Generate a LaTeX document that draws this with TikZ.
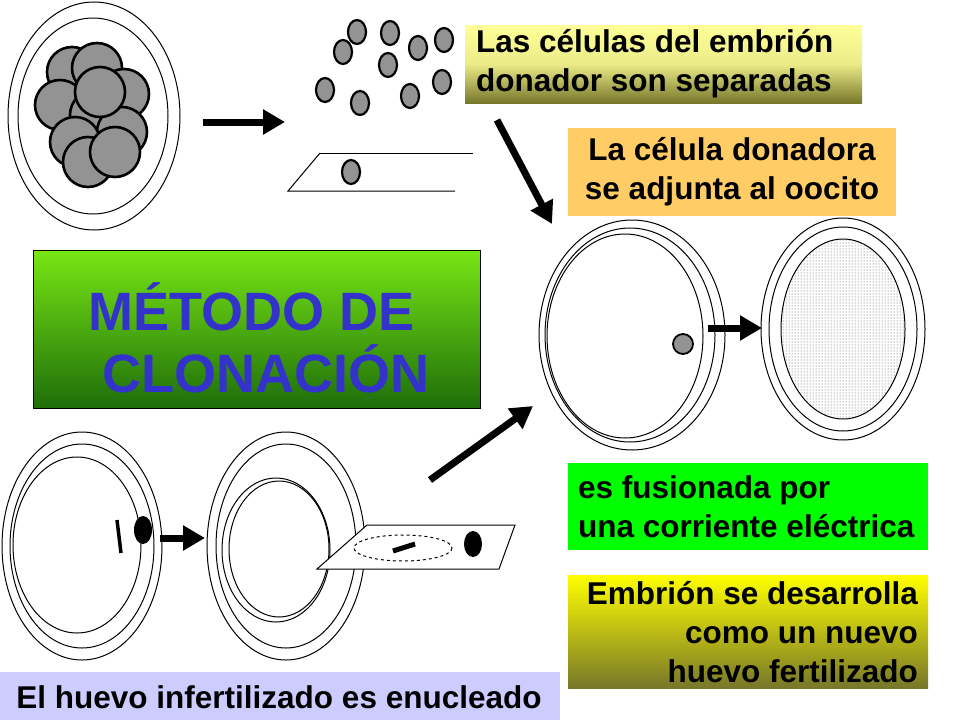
\documentclass[tikz,border=0pt]{standalone}
\usepackage{fontspec}
\setmainfont{Liberation Sans}
\usetikzlibrary{patterns,arrows.meta}
\definecolor{olive1}{HTML}{FFFF99}
\definecolor{olive2}{HTML}{77772A}
\begin{document}
\begin{tikzpicture}[x=1pt,y=-1pt,
  ring/.style={draw=black,line width=1pt},
  cell/.style={draw=black,line width=2.6pt,fill=gray!85},
  bigarrow/.style={line width=7pt,-{Triangle[length=22pt,width=24pt]}},
  lbl/.style={font=\bfseries\fontsize{31.5}{39}\selectfont,inner sep=0pt}]
\useasboundingbox (0,0) rectangle (960,720);
\fill[white] (0,0) rectangle (960,720);
% top-left embryo
\draw[ring] (94,116) ellipse (86 and 114);
\draw[ring] (93,116) ellipse (75 and 98);
\foreach \p in {(72,72),(97,68),(124,94),(60,105),(95,115),(122,132),(75,142),(88,162),(115,152),(100,92)}
  \draw[cell] \p circle (25);
\coordinate (a1s) at (203,122); \coordinate (a1e) at (285,122);
\draw[bigarrow] (a1s) -- (a1e);
% separated cells
\foreach \p in {(357,32),(343,52),(390,33),(418,48),(444,40),(388,65),(442,82),(325,90),(360,103),(410,96)}
  \draw[cell,line width=2.2pt] \p ellipse (9 and 12);
\draw[ring] (320,153) -- (473,153);
\draw[ring] (320,153) -- (288,191) -- (455,191);
\draw[cell,line width=2.2pt] (351,172) ellipse (9 and 12);
% box1
\node[minimum width=397pt,minimum height=78pt,anchor=north west,inner sep=0pt,top color=olive1,bottom color=olive2,middle color=olive1!85!olive2] (b1) at (465,25) {};
\node[lbl,anchor=west,align=left] at (476,64) {Las células del embrión\\donador son separadas};
\coordinate (a2s) at (497,120); \coordinate (a2e) at (552,224);
\draw[bigarrow] (a2s) -- (a2e);
% box2
\node[fill={rgb,255:red,255;green,204;blue,102},minimum width=328pt,minimum height=88pt,anchor=north west,inner sep=0pt] (b2) at (568,128) {};
\node[lbl,align=center] at (732,172) {La célula donadora\\ se adjunta al oocito};
% title
\node[draw=black,line width=0.5pt,minimum width=447pt,minimum height=158pt,anchor=north west,inner sep=0pt,
  top color={rgb,255:red,120;green,230;blue,20},bottom color={rgb,255:red,30;green,110;blue,10}] (t) at (33,250) {};
\node[font=\bfseries\fontsize{54}{62}\selectfont,text={rgb,255:red,51;green,51;blue,204},align=left,anchor=west] at (85,338) {MÉTODO DE\\\hspace*{14pt}CLONACIÓN};
% right egg 1
\draw[ring] (632,335) ellipse (93 and 115);
\draw[ring] (630,335) ellipse (85 and 107);
\draw[ring] (625,336) ellipse (78 and 102);
\draw[cell,line width=1.8pt] (683,344) circle (10);
\coordinate (a3s) at (708,328); \coordinate (a3e) at (762,328);
\draw[bigarrow] (a3s) -- (a3e);
% right egg 2
\draw[ring] (843,329) ellipse (82 and 111);
\draw[ring] (843,329) ellipse (74 and 102);
\draw[ring,pattern=dots,pattern color=black!70] (843,329) ellipse (62 and 90);
% arrow up
\coordinate (a4s) at (430,480); \coordinate (a4e) at (533,406);
\draw[bigarrow] (a4s) -- (a4e);
% box3
\node[fill={rgb,255:red,0;green,255;blue,0},minimum width=360pt,minimum height=87pt,anchor=north west,inner sep=0pt] (b3) at (568,463) {};
\node[lbl,align=left,anchor=west] at (578,507) {es fusionada por\\una corriente eléctrica};
% box4
\node[top color={rgb,255:red,255;green,255;blue,0},bottom color=olive2,minimum width=360pt,minimum height=113pt,anchor=north west,inner sep=0pt] (b4) at (568,575) {};
\node[lbl,align=right,anchor=east] at (918,632) {Embrión se desarrolla\\como un nuevo \\huevo fertilizado};
% box5
\node[fill={rgb,255:red,204;green,204;blue,255},minimum width=560pt,minimum height=48pt,anchor=north west,inner sep=0pt] (b5) at (0,672) {};
\node[lbl] at (279,697) {El huevo infertilizado es enucleado};
% bottom egg 1
\draw[ring] (82,546) ellipse (80 and 114);
\draw[ring] (82,546) ellipse (72 and 102);
\draw[ring] (77,545) ellipse (64 and 88);
\fill[black] (143,530) ellipse (9 and 14);
\draw[line width=3.5pt] (117,520) -- (121,553);
\coordinate (a5s) at (160,538); \coordinate (a5e) at (205,538);
\draw[bigarrow] (a5s) -- (a5e);
% bottom egg 2
\draw[ring] (286,546) ellipse (79 and 114);
\draw[ring] (286,546) ellipse (70 and 102);
\draw[ring] (276,550) ellipse (54 and 72);
\draw[ring] (279,549) ellipse (50 and 68);
\draw[ring,fill=white] (367,525) -- (515,525) -- (499,569) -- (317,569) -- cycle;
\draw[ring,dashed] (403,548) ellipse (49 and 13);
\draw[line width=5pt] (393,551) -- (415,544);
\fill[black] (473,544) ellipse (9 and 13);
\end{tikzpicture}
\end{document}
